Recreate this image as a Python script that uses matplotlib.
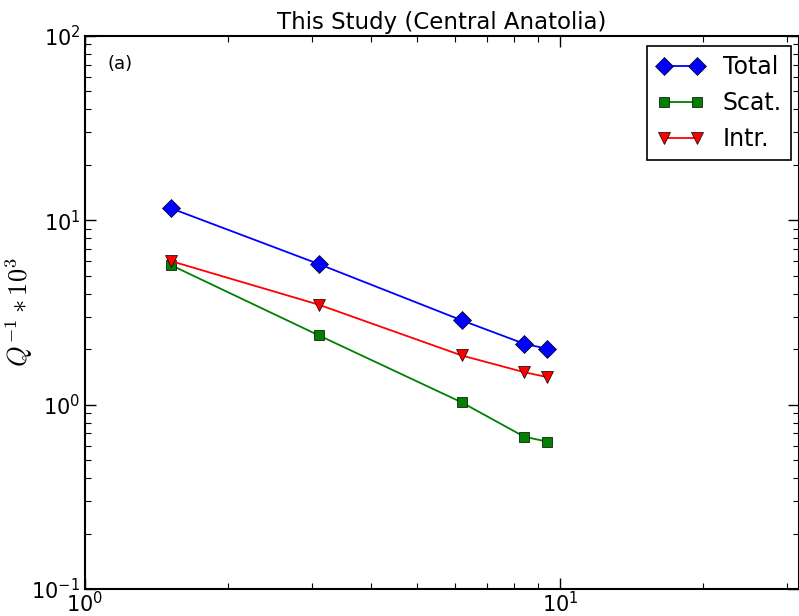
import matplotlib
matplotlib.use('Agg')
import matplotlib.pyplot as plt

# frequency bands (Hz) and Q^-1 * 10^3 values
freq = [1.52, 3.1, 6.2, 8.4, 9.4]
total = [11.6, 5.8, 2.87, 2.14, 2.01]
scat = [5.7, 2.38, 1.03, 0.67, 0.63]
intr = [6.0, 3.49, 1.85, 1.50, 1.41]

plt.rcParams['mathtext.fontset'] = 'cm'
plt.rcParams['xtick.direction'] = 'in'
plt.rcParams['ytick.direction'] = 'in'
plt.rcParams['xtick.top'] = True
plt.rcParams['ytick.right'] = True

fig = plt.figure(figsize=(7.99, 6.16), dpi=100, facecolor='white')
ax = fig.add_axes([0.1064, 0.0438, 0.8936, 0.8978])

ax.plot(freq, total, color='b', marker='D', markersize=9, lw=1.3,
        markeredgecolor='k', markeredgewidth=0.5, label='Total')
ax.plot(freq, scat, color='g', marker='s', markersize=7, lw=1.3,
        markeredgecolor='k', markeredgewidth=0.5, label='Scat.')
ax.plot(freq, intr, color='r', marker='v', markersize=8, lw=1.3,
        markeredgecolor='k', markeredgewidth=0.5, label='Intr.')

ax.set_xscale('log')
ax.set_yscale('log')
ax.set_xlim(1, 31.8)
ax.set_ylim(0.1, 100)

ax.tick_params(which='major', length=8, width=1, labelsize=15)
ax.tick_params(which='minor', length=4, width=0.8)
ax.tick_params(axis='x', pad=1.5)
for s in ax.spines.values():
    s.set_linewidth(1.5)

ax.set_title('This Study (Central Anatolia)', fontsize=16.5, pad=5)
ax.set_ylabel(r'$Q^{-1}*10^3$', fontsize=19)
ax.yaxis.set_label_coords(-0.07, 0.5)
ax.text(0.032, 0.965, '(a)', transform=ax.transAxes, fontsize=13, va='top')

leg = ax.legend(loc='upper right', numpoints=2, fontsize=17, fancybox=False,
                framealpha=1, edgecolor='k', handlelength=2.0,
                bbox_to_anchor=(0.989, 0.982), borderaxespad=0)
leg.get_frame().set_linewidth(1.2)

fig.savefig('out.png', dpi=100, facecolor='white')
